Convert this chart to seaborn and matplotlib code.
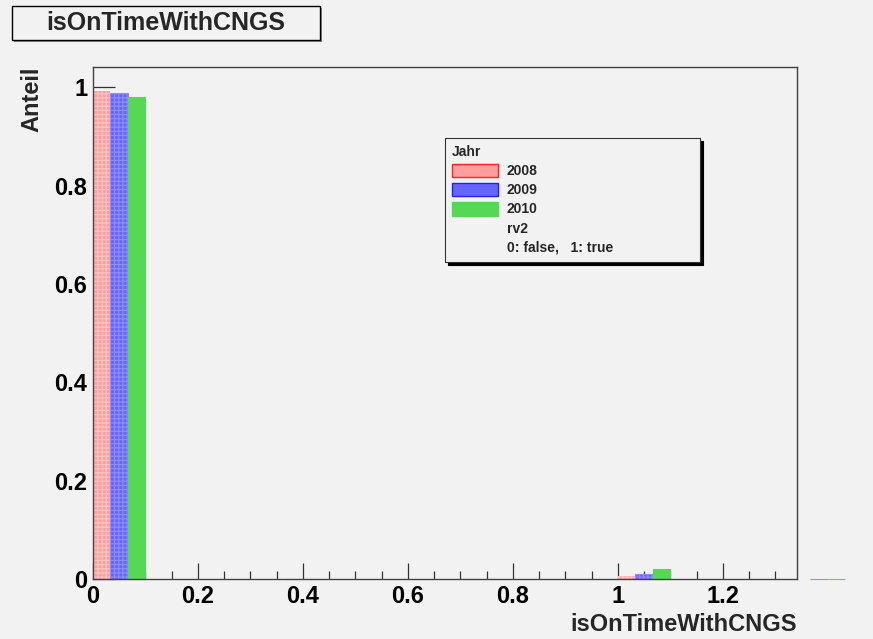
import numpy as np
import pandas as pd
import matplotlib
matplotlib.use("Agg")
import matplotlib.pyplot as plt
import matplotlib.patches as mpatches
from matplotlib.ticker import MultipleLocator, FixedLocator
import seaborn as sns

# ---- data ----
years = ["2008", "2009", "2010"]
bin_low = [0.0, 1/3, 2/3, 1.0, 4/3]          # bin lower edges (last = overflow)
share_2008 = [0.993, 0.0, 0.0, 0.007, 0.0]
share_2009 = [0.989, 0.0, 0.0, 0.011, 0.0]
share_2010 = [0.980, 0.0, 0.0, 0.020, 0.0]
x_ticks = [0, 0.2, 0.4, 0.6, 0.8, 1.0, 1.2]
x_tick_labels = ["0", "0.2", "0.4", "0.6", "0.8", "1", "1.2"]
y_ticks = [0, 0.2, 0.4, 0.6, 0.8, 1.0]
y_tick_labels = ["0", "0.2", "0.4", "0.6", "0.8", "1"]
title = "isOnTimeWithCNGS"
x_label = "isOnTimeWithCNGS"
y_label = "Anteil"
legend_title = "Jahr"
legend_extra = ["rv2", "0: false,   1: true"]

bar_offset = 0.05   # centre of 3-bar group relative to bin low edge
df = pd.DataFrame({
    "year": np.repeat(years, len(bin_low)),
    "x": np.tile(np.array(bin_low) + bar_offset, len(years)),
    "share": share_2008 + share_2009 + share_2010,
})

BG = "#f2f2f2"
sns.set_theme(style="white")
plt.rcParams["font.family"] = ["Liberation Sans", "DejaVu Sans"]
plt.rcParams["font.weight"] = "bold"
plt.rcParams["hatch.linewidth"] = 0.8

fig = plt.figure(figsize=(8.73, 6.39), dpi=100, facecolor=BG)
ax = fig.add_axes([93/873, 1-579/639, (797-93)/873, (579-67)/639])
ax.set_facecolor(BG)

face = {"2008": "#ff9e9e", "2009": "#6666ff", "2010": "#55d855"}
hatchcol = {"2008": "#ffc6c6", "2009": "#8e8eff", "2010": "#55d855"}
legedge = {"2008": "#ff2020", "2009": "#2020ff", "2010": "#55d855"}
hatch = {"2008": "++++", "2009": "++++", "2010": None}

sns.barplot(data=df, x="x", y="share", hue="year", hue_order=years,
            native_scale=True, width=0.3, errorbar=None, ax=ax,
            palette=face, legend=False, saturation=1)

for yr, cont in zip(years, ax.containers):
    for p in cont.patches:
        p.set_facecolor(face[yr])
        p.set_edgecolor(hatchcol[yr])
        p.set_hatch(hatch[yr])
        p.set_linewidth(0 if yr == "2008" else 0.8)
        p.set_clip_on(False)

ax.set_xlim(0, 1.341)
ax.set_ylim(0, 1.041)

ax.xaxis.set_major_locator(FixedLocator(x_ticks))
ax.set_xticklabels(x_tick_labels)
ax.xaxis.set_minor_locator(MultipleLocator(0.05))
ax.yaxis.set_major_locator(FixedLocator(y_ticks))
ax.set_yticklabels(y_tick_labels)
ax.yaxis.set_minor_locator(MultipleLocator(0.05))

ax.tick_params(axis="x", which="major", direction="in", length=11.5, width=0.9,
               color="#333333", labelsize=17, pad=4, bottom=True)
ax.tick_params(axis="x", which="minor", direction="in", length=5.8, width=0.9,
               color="#333333", bottom=True)
ax.tick_params(axis="y", which="major", direction="in", length=15.8, width=0.9,
               color="#333333", labelsize=17, pad=4, left=True)
ax.tick_params(axis="y", which="minor", direction="in", length=7.9, width=0.9,
               color="#333333", left=True)
for lab in ax.get_xticklabels() + ax.get_yticklabels():
    lab.set_fontweight("bold")
    lab.set_color("black")

for s in ax.spines.values():
    s.set_visible(True)
    s.set_color("#444444")
    s.set_linewidth(1.0)

ax.set_xlabel(x_label, loc="right", fontsize=17, fontweight="bold", labelpad=4)
ax.set_ylabel(y_label, loc="top", fontsize=17, fontweight="bold")
ax.yaxis.set_label_coords(-0.071, 1.0)

# legend
handles = [mpatches.Patch(facecolor=face[y], edgecolor=legedge[y], hatch=None,
                          linewidth=1.0) for y in years]
handles += [mpatches.Patch(facecolor="none", edgecolor="none") for _ in legend_extra]
leg = ax.legend(handles, years + legend_extra, title=legend_title,
                loc="upper left",
                bbox_to_anchor=(445/873, 1-138/639 - 0.01, (700-445)/873, 0.01),
                bbox_transform=fig.transFigure, mode="expand", borderaxespad=0,
                prop={"size": 10, "weight": "bold"},
                title_fontproperties={"size": 10, "weight": "bold"},
                alignment="left", frameon=True, fancybox=False,
                shadow={"color": "black", "alpha": 1}, framealpha=1,
                facecolor=BG, edgecolor="#333333",
                handlelength=3.3, handleheight=1.15, handletextpad=0.65,
                labelspacing=0.33, borderpad=0.5)
leg.get_frame().set_linewidth(0.8)

# title box with small shadow
fig.patches.append(mpatches.Rectangle((14/873, 1-42/639), 308/873, 34/639,
                                      transform=fig.transFigure, facecolor="#888888",
                                      edgecolor="none"))
fig.patches.append(mpatches.Rectangle((12/873, 1-40/639), 308/873, 34/639,
                                      transform=fig.transFigure, facecolor=BG,
                                      edgecolor="black", linewidth=1.0))
fig.text(166/873, 1-23/639, title, ha="center", va="center",
         fontsize=18, fontweight="bold")

fig.savefig("out.png", dpi=100, facecolor=BG)
